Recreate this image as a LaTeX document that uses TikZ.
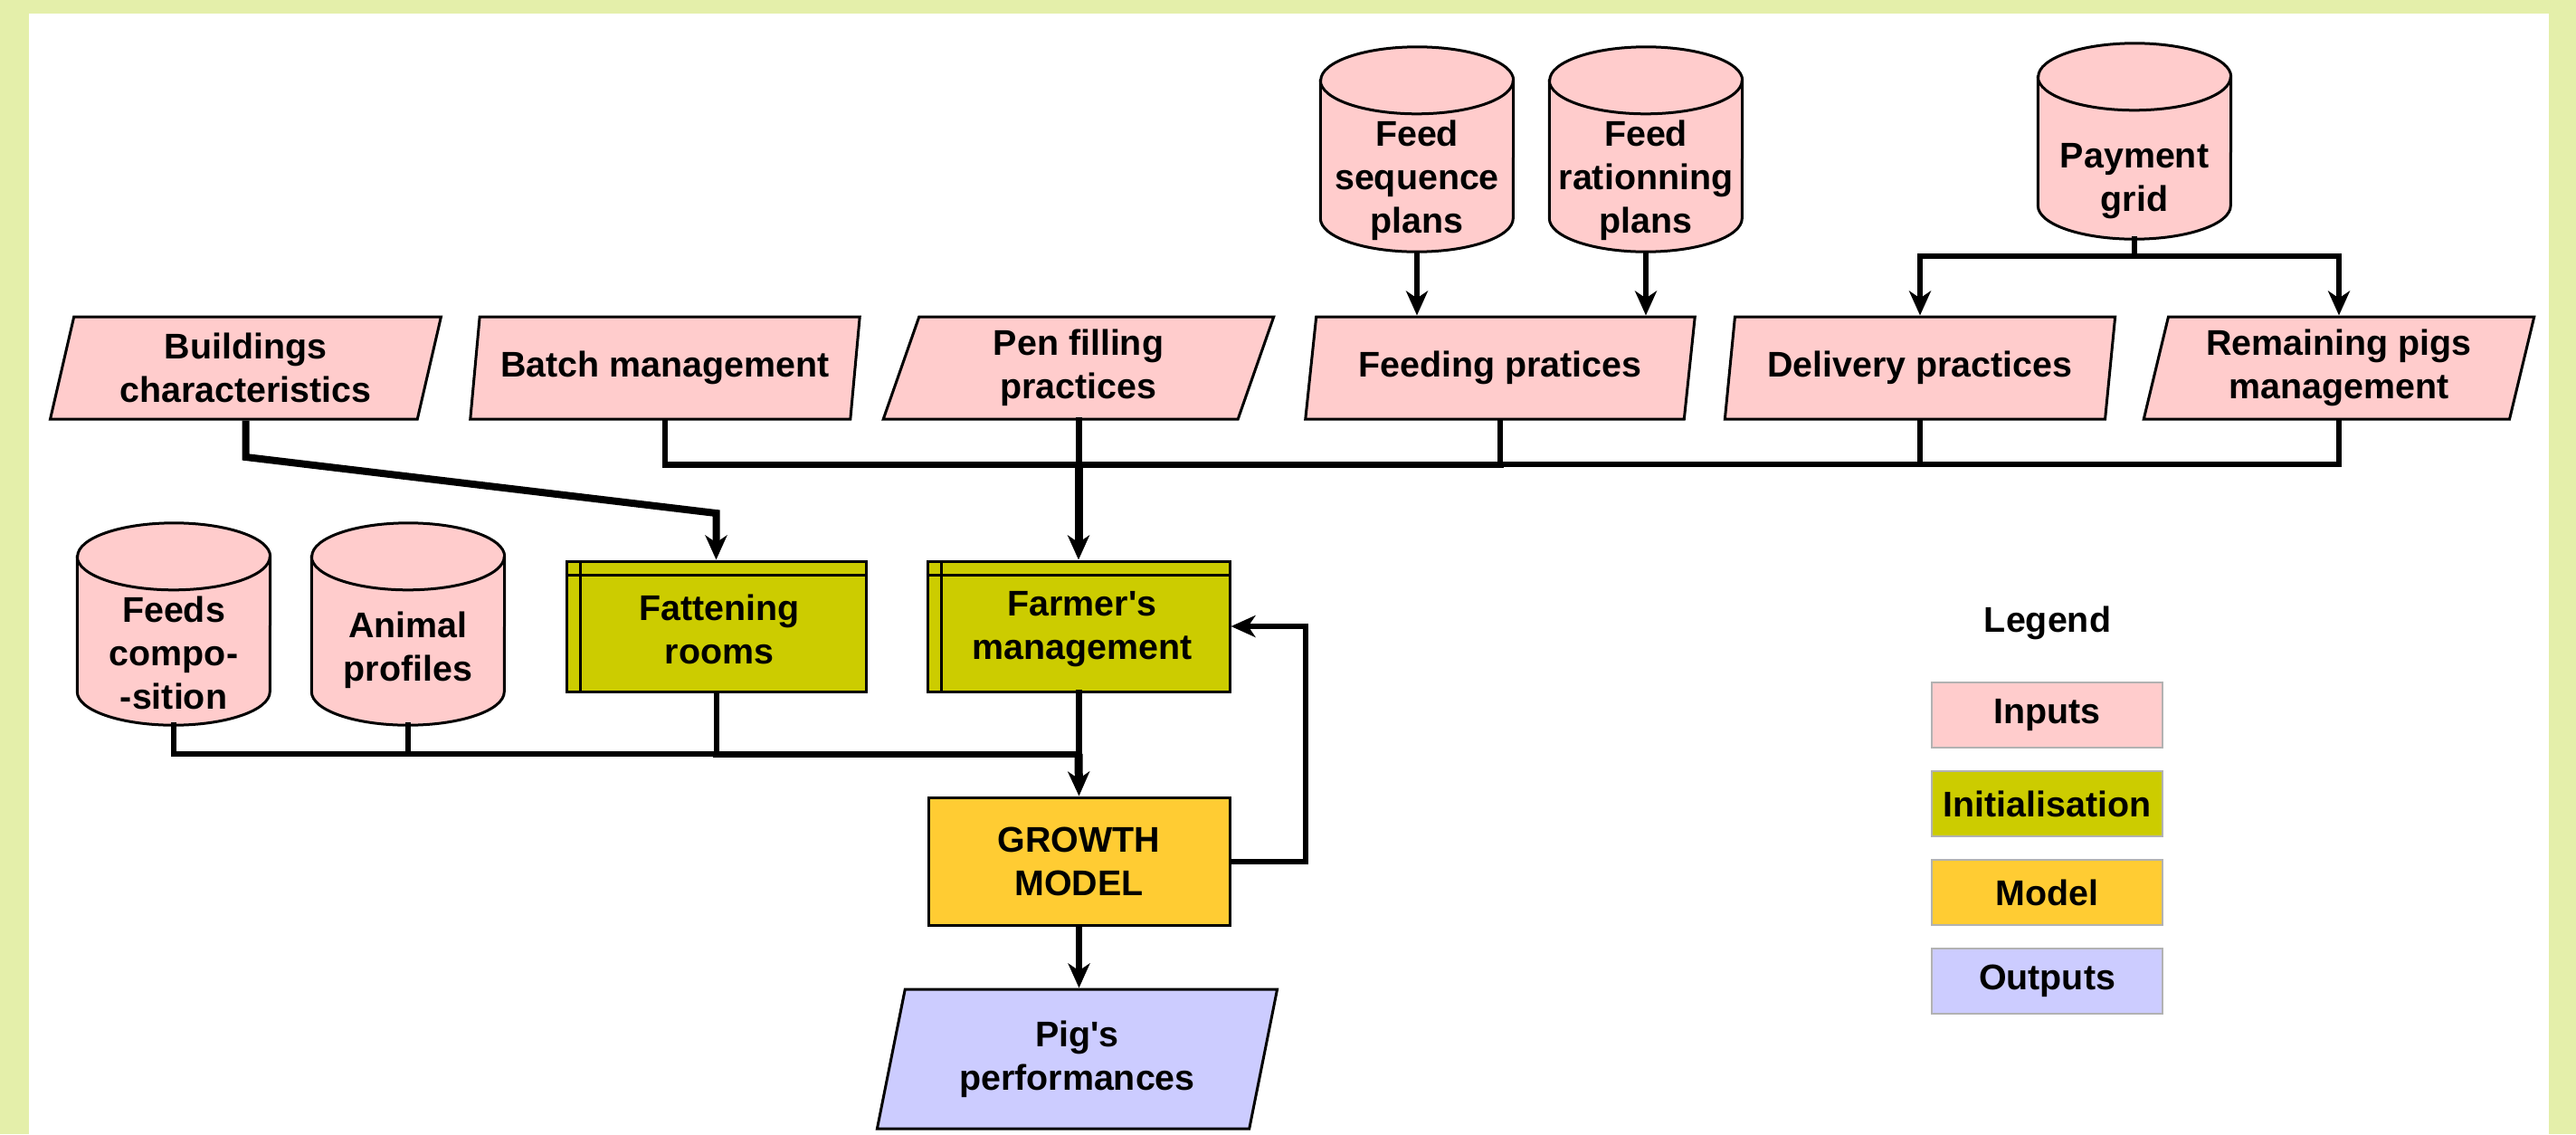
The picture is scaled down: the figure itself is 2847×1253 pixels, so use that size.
\documentclass[tikz,border=0pt]{standalone}
\usepackage{fontspec}
\setmainfont{Liberation Sans}[Ligatures=TeXOff]
\usetikzlibrary{shapes.geometric,arrows.meta,calc}
\definecolor{bggreen}{HTML}{E4EFAA}
\definecolor{inpink}{HTML}{FFCCCC}
\definecolor{initol}{HTML}{CCCC00}
\definecolor{modyel}{HTML}{FFCC33}
\definecolor{outblue}{HTML}{CCCCFF}
\newcommand\drawcyl[1]{%
  \draw[cylsty] ([yshift=-37pt]#1.north west) -- ([yshift=37pt]#1.south west)
    arc[start angle=180,end angle=360,x radius=106.5pt,y radius=37pt]
    -- ([yshift=-37pt]#1.north east)
    arc[start angle=0,end angle=180,x radius=106.5pt,y radius=37pt] -- cycle;
  \draw[line width=3pt] ([yshift=-37pt]#1.north west)
    arc[start angle=180,end angle=360,x radius=106.5pt,y radius=37pt];}
\newcommand\drawstore[1]{%
  \draw[line width=2.5pt] ([yshift=-17pt]#1.north west) -- ([yshift=-17pt]#1.north east);
  \draw[line width=2.5pt] ([xshift=17pt]#1.north west) -- ([xshift=17pt]#1.south west);}
\begin{document}
\begin{tikzpicture}[x=1pt,y=-1pt,
  every node/.style={font=\fontsize{39.4}{48}\selectfont\bfseries, align=center, inner sep=0pt},
  para/.style={trapezium, trapezium left angle=76, trapezium right angle=104,
    trapezium stretches=true, draw=black, line width=3pt, fill=inpink,
    minimum width=432pt, minimum height=113pt},
  cylbox/.style={minimum width=213pt, draw=none},
  cylsty/.style={fill=inpink, draw=black, line width=3pt},
  boxsty/.style={rectangle, draw=black, line width=3pt},
  legbox/.style={rectangle, draw=black!30, line width=1.5pt, minimum width=255pt, minimum height=72pt},
  wa/.style={line width=6pt, line cap=rect},
  wb/.style={line width=7pt, line cap=rect},
  wc/.style={line width=8pt, line cap=rect},
  wd/.style={line width=9pt},
  arr/.style={-{Stealth[length=27pt,width=24pt,inset=8pt]}, line cap=butt}
]
\useasboundingbox (0,0) rectangle (2847,1253);
\fill[bggreen] (0,0) rectangle (2847,1253);
\fill[white] (32,15) rectangle (2817,1253);

% top cylinders
\node[cylbox, minimum height=226pt] (fsp) at (1566,165) {};
\drawcyl{fsp}
\node (fspt) at (1566,199) {Feed\\sequence\\plans};
\node[cylbox, minimum height=226pt] (frp) at (1819,165) {};
\drawcyl{frp}
\node (frpt) at (1819,199) {Feed\\rationning\\plans};
\node[cylbox, minimum height=216pt] (pay) at (2359,156) {};
\drawcyl{pay}
\node (payt) at (2359,200) {Payment\\grid};

% row 1 parallelograms
\node[para] (build) at (271.5,406.5) {Buildings\\characteristics};
\node[para] (batch) at (735,406.5) {Batch management};
\node[para] (pen) at (1192,406.5) {Pen filling\\practices};
\node[para] (feeding) at (1658,406.5) {Feeding pratices};
\node[para] (delivery) at (2122,406.5) {Delivery practices};
\node[para] (remain) at (2585,406.5) {Remaining pigs\\management};

% row 2 cylinders
\node[cylbox, minimum height=223pt] (fcomp) at (192,689.5) {};
\drawcyl{fcomp}
\node (fcompt) at (192,721) {Feeds\\compo-\\-sition};
\node[cylbox, minimum height=223pt] (anim) at (451,689.5) {};
\drawcyl{anim}
\node (animt) at (451,718) {Animal\\profiles};

% initialisation boxes
\node[boxsty, fill=initol, minimum width=331pt, minimum height=144pt] (fat) at (791.5,692) {};
\drawstore{fat}
\node (fatt) at (795,695) {Fattening\\rooms};
\node[boxsty, fill=initol, minimum width=334pt, minimum height=144pt] (farmer) at (1192,692) {};
\drawstore{farmer}
\node (farmert) at (1196,695) {Farmer's\\management};

% model and output
\node[boxsty, fill=modyel, minimum width=333pt, minimum height=141pt] (growth) at (1192.5,951.5) {GROWTH\\MODEL};
\node[para, fill=outblue, minimum width=443pt, minimum height=154pt] (pigs) at (1190.5,1170) {Pig's\\performances};

% legend
\node (leg) at (2263,688) {Legend};
\node[legbox, fill=inpink] (lin) at (2262.5,790) {Inputs};
\node[legbox, fill=initol] (lini) at (2262.5,888) {Initialisation};
\node[legbox, fill=modyel] (lmod) at (2262.5,986) {Model};
\node[legbox, fill=outblue] (lout) at (2262.5,1084) {Outputs};

% connectors: top cylinders
\draw[wa,arr] (fsp.south) -- (fsp.south |- feeding.north);
\draw[wa,arr] (frp.south) -- (frp.south |- feeding.north);
\coordinate (payj) at (0,283);
\draw[wa] (pay.south) -- (pay.south |- payj);
\draw[wa,arr] (pay.south |- payj) -| (delivery.center |- delivery.north);
\draw[wa,arr] (pay.south |- payj) -| (remain.center |- remain.north);

% row 1 bus
\coordinate (busA) at (0,513);
\draw[wa] (remain.center |- remain.south) -- (remain.center |- busA) -- (delivery.center |- busA);
\draw[wa] (delivery.center |- delivery.south) -- (delivery.center |- busA);
\draw[wa] (delivery.center |- busA) -- (feeding.center |- busA);
\draw[wa] (feeding.center |- feeding.south) -- (feeding.center |- busA);
\draw[wb] (feeding.center |- busA) -- (pen.center |- busA);
\draw[wa] (batch.center |- batch.south) -- (batch.center |- busA);
\draw[wb] (batch.center |- busA) -- (pen.center |- busA);
\draw[wb] (pen.center |- pen.south) -- (pen.center |- busA);
\draw[wd,arr] (pen.center |- busA) -- (farmer.north);

% buildings to fattening rooms
\coordinate (bA) at (0,505);
\coordinate (bB) at (0,567);
\draw[wc,arr,line join=miter] (build.center |- build.south) -- (build.center |- bA) -- (fat.north |- bB) -- (fat.north);

% bottom bus
\coordinate (busB) at (0,833);
\draw[wa] (fcomp.south) -- (fcomp.south |- busB) -- (anim.south |- busB);
\draw[wa] (anim.south) -- (anim.south |- busB);
\draw[wa] (anim.south |- busB) -- (fat.south |- busB);
\draw[wa] (fat.south) -- (fat.south |- busB);
\draw[wb] (fat.south |- busB) -- (farmer.south |- busB);
\draw[wb] (farmer.south) -- (farmer.south |- busB);
\draw[wd,arr] (farmer.south |- busB) -- (growth.north);

% feedback loop
\coordinate (fb) at (1443,0);
\draw[wa,arr] (growth.east) -- (fb |- growth.east) -- (fb |- farmer.east) -- (farmer.east);

% model to output
\draw[wb,arr] (growth.south) -- (growth.south |- pigs.north);
\end{tikzpicture}
\end{document}
